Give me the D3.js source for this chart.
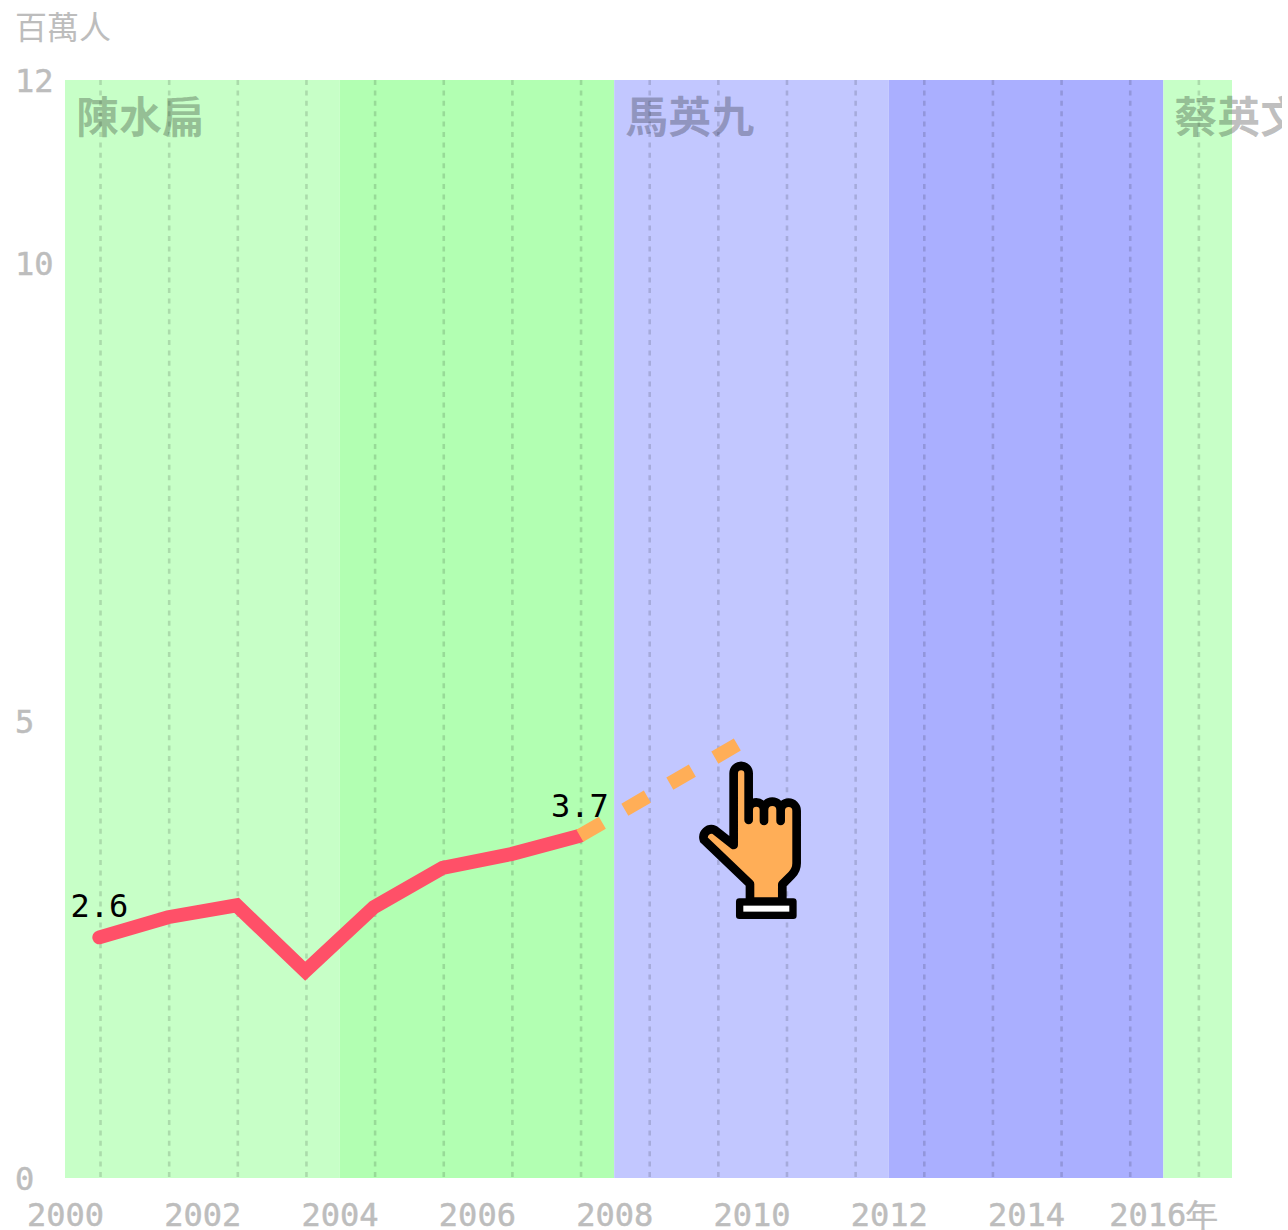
<!DOCTYPE html>
<html><head><meta charset="utf-8">
<style>html,body{margin:0;padding:0;background:#fff;overflow:hidden}svg{display:block}</style>
<script src="https://cdnjs.cloudflare.com/ajax/libs/d3/7.8.5/d3.min.js"></script>
</head><body><div id="chart"></div>
<script>
const bandStarts = [2000, 2004, 2008, 2012, 2016];
const bandEnds = [2004, 2008, 2012, 2016, 2017];
const bandColors = ["#c7ffc7", "#b2ffb2", "#c2c7ff", "#aaafff", "#c7ffc7"];
const termNames = ["陳水扁", "馬英九", "蔡英文"];
const termYears = [2000, 2008, 2016];
const years = [2000.5, 2001.5, 2002.5, 2003.5, 2004.5, 2005.5, 2006.5, 2007.5];
const values = [2.63, 2.85, 2.98, 2.26, 2.96, 3.39, 3.54, 3.74];
const dashYears = [2007.5, 2009.8];
const dashValues = [3.74, 4.74];
const gridYears = [2000.5,2001.5,2002.5,2003.5,2004.5,2005.5,2006.5,2007.5,2008.5,2009.5,2010.5,2011.5,2012.5,2013.5,2014.5,2015.5,2016.5];
const xTicks = [2000,2002,2004,2006,2008,2010,2012,2014,2016];
const yTicks = [0,5,10,12];
const labelYears = [2000.5, 2007.5];
const labelValues = [2.63, 3.74];
const labelTexts = ["2.6", "3.7"];

const mono = '"DejaVu Sans Mono", monospace';
const cjk = '"Noto Sans CJK TC", sans-serif';
const svg = d3.select("#chart").append("svg").attr("width", 1288).attr("height", 1230);
const x = d3.scaleLinear().domain([2000, 2017]).range([65, 1232]);
const y = d3.scaleLinear().domain([0, 12]).range([1178, 80]);

svg.append("clipPath").attr("id", "page").append("rect").attr("width", 1282).attr("height", 1230);

svg.selectAll(".band").data(bandStarts).join("rect").attr("class", "band")
  .attr("x", d => x(d)).attr("width", (d, i) => x(bandEnds[i]) - x(d))
  .attr("y", y(12)).attr("height", y(0) - y(12))
  .attr("fill", (d, i) => bandColors[i]);

svg.selectAll(".grid").data(gridYears).join("line").attr("class", "grid")
  .attr("x1", d => x(d) + 1.2).attr("x2", d => x(d) + 1.2)
  .attr("y1", y(12)).attr("y2", y(0))
  .attr("stroke", "#000").attr("stroke-opacity", 0.14)
  .attr("stroke-width", 2.6).attr("stroke-dasharray", "5 5.4");

svg.selectAll(".term").data(termNames).join("text").attr("class", "term")
  .attr("clip-path", "url(#page)")
  .attr("x", (d, i) => x(termYears[i]) + 11).attr("y", 133)
  .attr("font-family", cjk).attr("font-weight", 700).attr("font-size", 43)
  .attr("fill", "#000").attr("fill-opacity", 0.25).text(d => d);

const xAxis = svg.append("g").attr("transform", `translate(0,${y(0)})`)
  .call(d3.axisBottom(x).tickValues(xTicks).tickSize(0).tickPadding(0)
    .tickFormat(d => d === 2016 ? "2016年" : String(d)));
xAxis.select(".domain").remove();
xAxis.selectAll("text").attr("y", 48).attr("dy", 0)
  .attr("font-family", mono).attr("font-size", 32).attr("fill", "#bdbdbd")
  .attr("stroke", "#bdbdbd").attr("stroke-width", 0.5);

const yAxis = svg.append("g")
  .call(d3.axisLeft(y).tickValues(yTicks).tickSize(0).tickPadding(0));
yAxis.select(".domain").remove();
yAxis.selectAll("text").attr("x", 15).attr("text-anchor", "start").attr("dy", "0.37em")
  .attr("font-family", mono).attr("font-size", 32).attr("fill", "#bdbdbd")
  .attr("stroke", "#bdbdbd").attr("stroke-width", 0.5);

svg.append("text").attr("x", 15).attr("y", 39)
  .attr("font-family", cjk).attr("font-size", 32).attr("fill", "#bdbdbd").text("百萬人");

const line = d3.line().x((d, i) => x(years[i])).y(d => y(d));
svg.append("path").attr("d", line(values)).attr("fill", "none")
  .attr("stroke", "#ff5068").attr("stroke-width", 14)
  .attr("stroke-linecap", "round").attr("stroke-linejoin", "miter");

const dashLine = d3.line().x((d, i) => x(dashYears[i])).y(d => y(d));
svg.append("path").attr("d", dashLine(dashValues)).attr("fill", "none")
  .attr("stroke", "#ffae57").attr("stroke-width", 14).attr("stroke-dasharray", "26 26");

svg.selectAll(".vlabel").data(labelTexts).join("text").attr("class", "vlabel")
  .attr("x", (d, i) => x(labelYears[i])).attr("y", (d, i) => y(labelValues[i]))
  .attr("dy", (d, i) => i === 0 ? -20 : -19)
  .attr("text-anchor", "middle").attr("font-family", mono).attr("font-size", 32)
  .attr("fill", "#000").text(d => d);

// pointing-hand cursor icon (drawn in the 3x crop's local coordinates)
const hand = svg.append("g").attr("transform", "translate(540,720) scale(0.3333)");
hand.append("path")
  .attr("d", "M581,375 L581,160 A22,22 0 0 1 626,160 L626,300 L626,270 A23,23 0 0 1 672,270 L672,303 L672,270 A24,24 0 0 1 722,270 L722,303 L722,272 A24,24 0 0 1 770,272 L770,430 Q770,450 755,465 L727,493 L727,545 L630,545 L630,492 L492,360 A24,24 0 0 1 524,330 Z")
  .attr("fill", "#ffae57").attr("stroke", "#000").attr("stroke-width", 26).attr("stroke-linejoin", "round").attr("stroke-linecap", "round");
hand.append("rect").attr("x", 588).attr("y", 535).attr("width", 182).attr("height", 62).attr("rx", 10).attr("fill", "#000");
hand.append("rect").attr("x", 610).attr("y", 557).attr("width", 138).attr("height", 18).attr("fill", "#fff");
</script></body></html>
